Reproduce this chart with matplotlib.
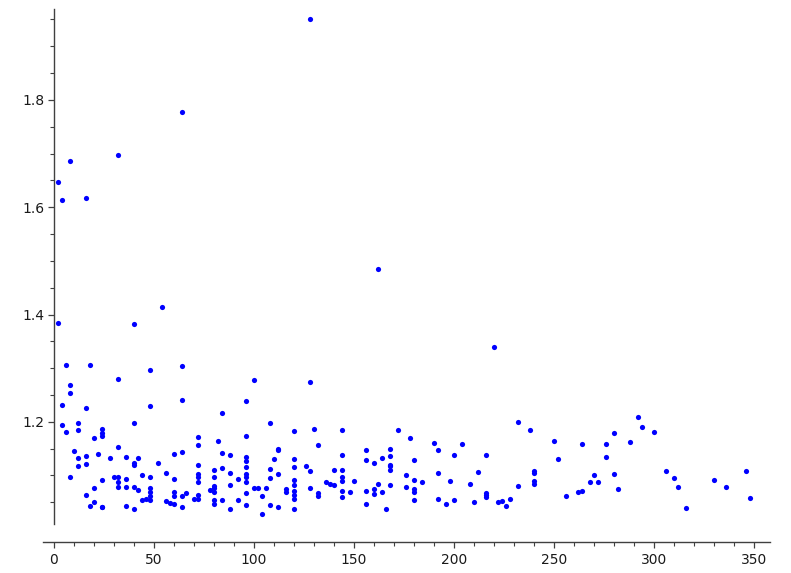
import matplotlib
matplotlib.use("Agg")
import matplotlib.pyplot as plt
from matplotlib.ticker import MultipleLocator, FixedLocator

# ── data (x, ratio) ──────────────────────────────────────────
x_vals = [
    2, 2,
    4, 4, 4,
    6, 6,
    8, 8, 8, 8,
    10,
    12, 12, 12, 12,
    16, 16, 16, 16, 16,
    18, 18,
    20, 20, 20,
    22,
    24, 24, 24, 24, 24, 24,
    28, 30,
    32, 32, 32, 32, 32, 32,
    36, 36, 36, 36,
    40, 40, 40, 40, 40, 40,
    42, 42, 44, 44, 46,
    48, 48, 48, 48, 48, 48, 48,
    52, 54, 56, 56, 58,
    60, 60, 60, 60, 60,
    64, 64, 64, 64, 64, 64,
    66, 70,
    72, 72, 72, 72, 72, 72, 72, 72,
    78,
    80, 80, 80, 80, 80, 80, 80,
    82,
    84, 84, 84, 84,
    88, 88, 88, 88,
    92, 92,
    96, 96, 96, 96, 96, 96, 96, 96, 96, 96,
    100, 100, 102, 104, 104, 106,
    108, 108, 108, 108,
    110,
    112, 112, 112, 112,
    116, 116,
    120, 120, 120, 120, 120, 120, 120, 120, 120,
    126,
    128, 128, 128, 128,
    130,
    132, 132, 132,
    136, 138, 140, 140,
    144, 144, 144, 144, 144, 144, 144,
    148, 150,
    156, 156, 156, 156,
    160, 160, 160,
    162, 162, 164, 164, 166,
    168, 168, 168, 168, 168, 168,
    172, 176, 176, 178,
    180, 180, 180, 180, 180,
    184, 190,
    192, 192, 192,
    196, 198, 200, 200, 204, 208, 210, 212,
    216, 216, 216, 216,
    220, 222, 224, 226, 228,
    232, 232, 238,
    240, 240, 240, 240,
    250, 252, 256, 262, 264, 264, 268, 270, 272,
    276, 276, 280, 280, 282,
    288, 292, 294, 300, 306, 310, 312, 316,
    330, 336, 346, 348,
]

y_vals = [
    1.647, 1.385,
    1.614, 1.231, 1.194,
    1.306, 1.181,
    1.687, 1.269, 1.253, 1.098,
    1.146,
    1.198, 1.185, 1.133, 1.117,
    1.618, 1.226, 1.136, 1.122, 1.064,
    1.306, 1.044,
    1.170, 1.076, 1.050,
    1.140,
    1.187, 1.179, 1.173, 1.092, 1.042, 1.041,
    1.133, 1.097,
    1.698, 1.279, 1.154, 1.097, 1.088, 1.079,
    1.134, 1.094, 1.079, 1.043,
    1.382, 1.198, 1.124, 1.120, 1.078, 1.038,
    1.132, 1.073, 1.100, 1.054, 1.056,
    1.296, 1.230, 1.098, 1.076, 1.069, 1.062, 1.054,
    1.124, 1.414, 1.105, 1.053, 1.048,
    1.140, 1.094, 1.070, 1.061, 1.046,
    1.778, 1.304, 1.241, 1.144, 1.061, 1.041,
    1.067, 1.057,
    1.171, 1.156, 1.119, 1.103, 1.097, 1.088, 1.064, 1.057,
    1.073,
    1.111, 1.097, 1.081, 1.076, 1.069, 1.054, 1.046,
    1.164,
    1.216, 1.141, 1.114, 1.054,
    1.138, 1.105, 1.082, 1.038,
    1.093, 1.054,
    1.238, 1.173, 1.135, 1.127, 1.116, 1.103, 1.097, 1.088, 1.067, 1.045,
    1.278, 1.076, 1.076, 1.062, 1.028, 1.076,
    1.197, 1.112, 1.095, 1.045,
    1.130,
    1.150, 1.147, 1.103, 1.042,
    1.074, 1.069,
    1.182, 1.130, 1.115, 1.092, 1.082, 1.072, 1.064, 1.056, 1.038,
    1.117,
    1.951, 1.275, 1.109, 1.076,
    1.186,
    1.157, 1.068, 1.062,
    1.088, 1.085, 1.111, 1.082,
    1.184, 1.139, 1.111, 1.098, 1.089, 1.072, 1.059,
    1.069, 1.089,
    1.148, 1.128, 1.071, 1.047,
    1.124, 1.074, 1.066,
    1.484, 1.084, 1.133, 1.069, 1.038,
    1.149, 1.137, 1.120, 1.117, 1.111, 1.082,
    1.184, 1.100, 1.079, 1.170,
    1.128, 1.092, 1.074, 1.070, 1.055,
    1.087, 1.160,
    1.148, 1.104, 1.057,
    1.047, 1.090, 1.139, 1.054, 1.159, 1.084, 1.051, 1.107,
    1.138, 1.067, 1.064, 1.060,
    1.339, 1.051, 1.053, 1.044, 1.057,
    1.200, 1.080, 1.185,
    1.108, 1.104, 1.090, 1.085,
    1.164, 1.131, 1.061, 1.069, 1.072, 1.159, 1.087, 1.101, 1.087,
    1.159, 1.135, 1.179, 1.102, 1.075,
    1.162, 1.209, 1.191, 1.181, 1.108, 1.095, 1.079, 1.040,
    1.091, 1.079, 1.109, 1.058,
]

y_major = [1.2, 1.4, 1.6, 1.8]

# ── figure ───────────────────────────────────────────────────
fig = plt.figure(figsize=(7.91, 5.73), dpi=100)
ax = fig.add_axes([43 / 791, 1 - 524.3 / 573, 727 / 791, 515 / 573])

ax.scatter(x_vals, y_vals, s=14, color="#0000ff", linewidths=0, zorder=3)

ax.set_xlim(-5.5, 358)
ax.set_ylim(1.009, 1.969)

# sage-style axes: y axis at x=0, x axis pushed below
ax.spines["top"].set_visible(False)
ax.spines["right"].set_visible(False)
ax.spines["left"].set_position(("data", 0))
ax.spines["bottom"].set_position(("outward", 12.5))
for side in ("left", "bottom"):
    ax.spines[side].set_color("0.25")
    ax.spines[side].set_linewidth(1.0)

ax.xaxis.set_major_locator(MultipleLocator(50))
ax.xaxis.set_minor_locator(MultipleLocator(10))
ax.yaxis.set_major_locator(FixedLocator(y_major))
ax.yaxis.set_minor_locator(MultipleLocator(0.05))
ax.set_yticklabels([f"{v:.1f}" for v in y_major])

ax.tick_params(which="major", length=4.5, width=0.9, color="0.25",
               labelsize=10, labelcolor="0.1")
ax.tick_params(which="minor", length=2.8, width=0.8, color="0.25")
ax.tick_params(axis="y", which="major", pad=2.5)
ax.tick_params(axis="x", which="major", pad=4)

fig.savefig("out.png", dpi=100)
